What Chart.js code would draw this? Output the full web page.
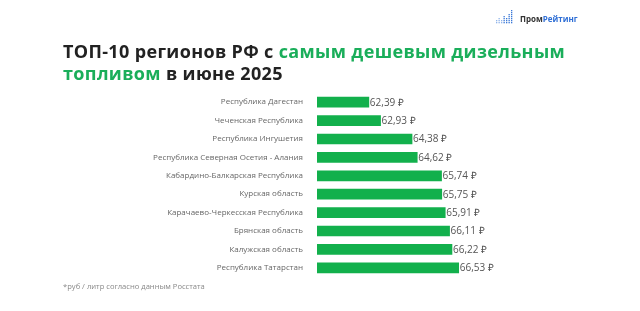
<!DOCTYPE html>
<html>
<head>
<meta charset="utf-8">
<script src="https://cdn.jsdelivr.net/npm/chart.js@4"></script>
<style>
  body { margin: 0; background: #fff; font-family: "Open Sans", sans-serif; }
  #wrap { position: relative; width: 640px; height: 311px; overflow: hidden; }
  #grafico { position: absolute; left: 0; top: 0; }
  .titulo { position: absolute; left: 63px; font-weight: 700; font-size: 18px; color: #222; white-space: nowrap; letter-spacing: 0.35px; }
  .verde { color: #1aae5a; }
  #logo { position: absolute; left: 520px; top: 13px; font-size: 8px; font-weight: 700; color: #333; }
  #logo span { color: #2f6fd6; }
  #pontos { position: absolute; left: 496px; top: 8px; }
  #nota { position: absolute; left: 63px; top: 281px; font-size: 7.6px; color: #888; }
</style>
</head>
<body>
<div id="wrap">
  <canvas id="grafico" width="640" height="311"></canvas>
  <canvas id="pontos" width="18" height="16"></canvas>
  <div id="logo">Пром<span>Рейтинг</span></div>
  <div class="titulo" style="top:39px">ТОП-10 регионов РФ с <span class="verde">самым дешевым дизельным</span></div>
  <div class="titulo" style="top:61px"><span class="verde">топливом</span> в июне 2025</div>
  <div id="nota">*руб / литр согласно данным Росстата</div>
</div>
<script>
const regioes = [
  'Республика Дагестан',
  'Чеченская Республика',
  'Республика Ингушетия',
  'Республика Северная Осетия - Алания',
  'Кабардино-Балкарская Республика',
  'Курская область',
  'Карачаево-Черкесская Республика',
  'Брянская область',
  'Калужская область',
  'Республика Татарстан'
];
const precos = [62.39, 62.93, 64.38, 64.62, 65.74, 65.75, 65.91, 66.11, 66.22, 66.53];
const rotulos = ['62,39 ₽', '62,93 ₽', '64,38 ₽', '64,62 ₽', '65,74 ₽', '65,75 ₽', '65,91 ₽', '66,11 ₽', '66,22 ₽', '66,53 ₽'];

// little logo icon
const p = document.getElementById('pontos').getContext('2d');
const alturas = [2, 3, 2, 4, 3, 5, 7];
alturas.forEach((h, i) => {
  for (let j = 0; j < h; j++) {
    p.fillStyle = i < 3 ? '#8fb4ea' : '#3a78d8';
    p.fillRect(i * 2.5, 14 - j * 2, 1.3, 1.3);
  }
});

const valores = {
  id: 'valores',
  afterDatasetsDraw(chart) {
    const ctx = chart.ctx;
    ctx.save();
    ctx.font = '10px "Open Sans", sans-serif';
    ctx.fillStyle = '#555';
    ctx.textBaseline = 'middle';
    chart.getDatasetMeta(0).data.forEach((bar, i) => {
      ctx.fillText(rotulos[i], bar.x + 1, bar.y + 0.5);
    });
    ctx.restore();
  }
};

new Chart(document.getElementById('grafico'), {
  type: 'bar',
  data: {
    labels: regioes,
    datasets: [{
      data: precos,
      backgroundColor: '#12b04c',
      barThickness: 10
    }]
  },
  options: {
    indexAxis: 'y',
    responsive: false,
    animation: false,
    layout: { padding: { top: 93, bottom: 34, right: 106, left: 0 } },
    plugins: { legend: { display: false }, tooltip: { enabled: false } },
    scales: {
      x: { display: false, min: 60, max: 70 },
      y: {
        grid: { display: false },
        border: { display: false },
        ticks: { color: '#666', font: { size: 8, family: 'Open Sans' }, padding: 6 },
        afterFit(scale) { scale.width = 317; }
      }
    }
  },
  plugins: [valores]
});
</script>
</body>
</html>
